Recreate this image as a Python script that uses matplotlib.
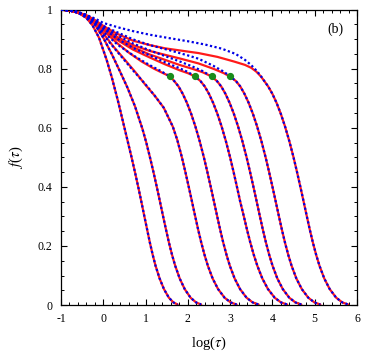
import matplotlib
matplotlib.use("Agg")
import matplotlib.pyplot as plt
from matplotlib.ticker import MultipleLocator, FuncFormatter

plt.rcParams['font.family'] = ['Liberation Serif', 'DejaVu Serif']
plt.rcParams['mathtext.fontset'] = 'stix'

# ---- data (x = log(tau), y = f(tau)) ----
# red solid curves
red_x1 = [-1, -0.8, -0.6, -0.4, -0.25, -0.1, 0.08, 0.2, 0.35, 0.51, 0.67, 0.75, 0.838, 0.901, 0.97, 1.039, 1.102, 1.17, 1.237, 1.333, 1.436, 1.552, 1.66, 1.76]
red_y1 = [1.0, 0.997, 0.99, 0.972, 0.946, 0.905, 0.83, 0.772, 0.69, 0.595, 0.50, 0.45, 0.393, 0.35, 0.302, 0.255, 0.212, 0.17, 0.133, 0.09, 0.054, 0.025, 0.009, 0.002]

red_x2 = [-1, -0.8, -0.6, -0.4, -0.2, 0, 0.2, 0.395, 0.5725, 0.75, 0.9275, 1.016, 1.105, 1.188, 1.277, 1.342, 1.413, 1.485, 1.553, 1.627, 1.702, 1.808, 1.927, 2.065, 2.195, 2.315]
red_y2 = [1.0, 0.997, 0.99, 0.975, 0.95, 0.905, 0.85, 0.791, 0.736, 0.673, 0.596, 0.551, 0.50, 0.45, 0.393, 0.35, 0.302, 0.255, 0.212, 0.17, 0.133, 0.09, 0.054, 0.025, 0.009, 0.002]

red_x3 = [-1, -0.8, -0.6, -0.4, -0.2, 0, 0.24, 0.5, 0.75, 1.0, 1.215, 1.43, 1.645, 1.7525, 1.86, 1.943, 2.033, 2.099, 2.172, 2.245, 2.317, 2.395, 2.474, 2.587, 2.716, 2.869, 3.014, 3.154]
red_y3 = [1.0, 0.997, 0.99, 0.977, 0.955, 0.92, 0.875, 0.832, 0.79, 0.745, 0.709, 0.668, 0.604, 0.558, 0.50, 0.45, 0.393, 0.35, 0.302, 0.255, 0.212, 0.17, 0.133, 0.09, 0.054, 0.025, 0.009, 0.002]

red_x4 = [-1, -0.8, -0.6, -0.4, -0.2, 0, 0.3, 0.6, 0.9, 1.2, 1.4, 1.577, 1.68, 1.78, 1.88, 1.98, 2.08, 2.18, 2.28, 2.38, 2.463, 2.553, 2.619, 2.692, 2.765, 2.837, 2.915, 2.994, 3.107, 3.236, 3.389, 3.534, 3.674]
red_y4 = [1.0, 0.997, 0.99, 0.978, 0.958, 0.93, 0.89, 0.855, 0.825, 0.80, 0.786, 0.774, 0.758, 0.740, 0.715, 0.684, 0.647, 0.604, 0.555, 0.50, 0.45, 0.393, 0.35, 0.302, 0.255, 0.212, 0.17, 0.133, 0.09, 0.054, 0.025, 0.009, 0.002]

red_x5 = [-1, -0.8, -0.6, -0.4, -0.2, 0, 0.3, 0.7, 1.1, 1.46, 1.8, 2.0, 2.17, 2.3, 2.4, 2.5, 2.6, 2.7, 2.8, 2.9, 3.0, 3.083, 3.173, 3.239, 3.322, 3.40, 3.477, 3.56, 3.644, 3.762, 3.896, 4.054, 4.204, 4.35]
red_y5 = [1.0, 0.997, 0.99, 0.979, 0.96, 0.935, 0.9, 0.865, 0.838, 0.815, 0.795, 0.785, 0.774, 0.758, 0.740, 0.715, 0.684, 0.647, 0.604, 0.555, 0.50, 0.45, 0.393, 0.35, 0.302, 0.255, 0.212, 0.17, 0.133, 0.09, 0.054, 0.025, 0.009, 0.002]

red_x6 = [-1, -0.8, -0.6, -0.4, -0.2, 0, 0.3, 0.7, 1.1, 1.46, 1.8, 2.1, 2.35, 2.56, 2.69, 2.79, 2.89, 2.99, 3.09, 3.19, 3.29, 3.39, 3.473, 3.563, 3.629, 3.702, 3.775, 3.847, 3.925, 4.004, 4.117, 4.246, 4.399, 4.544, 4.684]
red_y6 = [1.0, 0.997, 0.99, 0.979, 0.961, 0.937, 0.905, 0.873, 0.848, 0.83, 0.813, 0.80, 0.788, 0.774, 0.758, 0.740, 0.715, 0.684, 0.647, 0.604, 0.555, 0.50, 0.45, 0.393, 0.35, 0.302, 0.255, 0.212, 0.17, 0.133, 0.09, 0.054, 0.025, 0.009, 0.002]

red_x7 = [-1, -0.8, -0.6, -0.4, -0.2, 0, 0.3, 0.7, 1.1, 1.46, 1.8, 2.25, 2.6, 2.85, 2.99, 3.14, 3.24, 3.34, 3.44, 3.54, 3.64, 3.74, 3.84, 3.923, 4.013, 4.079, 4.152, 4.225, 4.297, 4.375, 4.454, 4.567, 4.696, 4.849, 4.994, 5.134]
red_y7 = [1.0, 0.997, 0.99, 0.98, 0.962, 0.94, 0.91, 0.88, 0.86, 0.847, 0.835, 0.818, 0.80, 0.785, 0.774, 0.758, 0.740, 0.715, 0.684, 0.647, 0.604, 0.555, 0.50, 0.45, 0.393, 0.35, 0.302, 0.255, 0.212, 0.17, 0.133, 0.09, 0.054, 0.025, 0.009, 0.002]

red_x8 = [-1, -0.8, -0.6, -0.4, -0.2, 0, 0.3, 0.7, 1.1, 1.46, 1.9, 2.25, 2.7, 3.1, 3.35, 3.5, 3.62, 3.72, 3.8, 3.9, 4.0, 4.1, 4.2, 4.3, 4.4, 4.5, 4.583, 4.673, 4.739, 4.812, 4.885, 4.957, 5.035, 5.114, 5.227, 5.356, 5.509, 5.654, 5.794]
red_y8 = [1.0, 0.997, 0.991, 0.981, 0.965, 0.945, 0.92, 0.895, 0.88, 0.869, 0.86, 0.853, 0.84, 0.824, 0.813, 0.803, 0.79, 0.775, 0.76, 0.740, 0.715, 0.684, 0.647, 0.604, 0.555, 0.50, 0.45, 0.393, 0.35, 0.302, 0.255, 0.212, 0.17, 0.133, 0.09, 0.054, 0.025, 0.009, 0.002]

# blue dotted curves: plateau parts read separately; they join the red curves in the final decay
blue_head_x3 = [-1, -0.8, -0.6, -0.4, -0.2, 0, 0.3, 0.7, 1.0, 1.215]
blue_head_y3 = [1.0, 0.997, 0.99, 0.976, 0.952, 0.915, 0.863, 0.795, 0.747, 0.709]
blue_head_x4 = [-1, -0.8, -0.6, -0.4, -0.2, 0, 0.35, 0.71, 1.1, 1.35, 1.577]
blue_head_y4 = [1.0, 0.997, 0.99, 0.977, 0.955, 0.925, 0.88, 0.845, 0.812, 0.793, 0.774]
blue_head_x5 = [-1, -0.8, -0.6, -0.4, -0.2, 0, 0.35, 0.71, 1.1, 1.46, 1.8, 2.0, 2.17]
blue_head_y5 = [1.0, 0.997, 0.991, 0.98, 0.961, 0.935, 0.9, 0.87, 0.845, 0.822, 0.802, 0.789, 0.774]
blue_head_x6 = [-1, -0.8, -0.6, -0.4, -0.2, 0, 0.35, 0.71, 1.1, 1.46, 1.8, 2.1, 2.35, 2.56]
blue_head_y6 = [1.0, 0.998, 0.991, 0.981, 0.962, 0.94, 0.912, 0.885, 0.862, 0.843, 0.825, 0.808, 0.792, 0.774]
blue_head_x7 = [-1, -0.8, -0.6, -0.4, -0.2, 0, 0.35, 0.71, 1.1, 1.58, 2.0, 2.25, 2.6, 2.85, 2.99]
blue_head_y7 = [1.0, 0.998, 0.992, 0.982, 0.965, 0.945, 0.922, 0.899, 0.88, 0.862, 0.845, 0.834, 0.81, 0.79, 0.775]
blue_head_x8 = [-1, -0.8, -0.6, -0.4, -0.2, 0, 0.35, 0.71, 1.1, 1.58, 2.0, 2.4, 2.8, 3.13, 3.35, 3.5, 3.62, 3.72]
blue_head_y8 = [1.0, 0.998, 0.992, 0.982, 0.97, 0.955, 0.94, 0.927, 0.915, 0.903, 0.893, 0.882, 0.868, 0.85, 0.83, 0.812, 0.794, 0.777]

# green markers
green_x = [1.577, 2.168, 2.563, 2.996]
green_y = [0.774, 0.774, 0.774, 0.774]

x_ticks = [-1, 0, 1, 2, 3, 4, 5, 6]
y_ticks = [0, 0.2, 0.4, 0.6, 0.8, 1]
panel_label = "(b)"

red_curves = [(red_x1, red_y1), (red_x2, red_y2), (red_x3, red_y3), (red_x4, red_y4),
              (red_x5, red_y5), (red_x6, red_y6), (red_x7, red_y7), (red_x8, red_y8)]


def join(hx, hy, rx, ry):
    tail = [(a, b) for a, b in zip(rx, ry) if a > hx[-1]]
    return hx + [a for a, _ in tail], hy + [b for _, b in tail]


blue_curves = [(red_x1, red_y1), (red_x2, red_y2),
               join(blue_head_x3, blue_head_y3, red_x3, red_y3),
               join(blue_head_x4, blue_head_y4, red_x4, red_y4),
               join(blue_head_x5, blue_head_y5, red_x5, red_y5),
               join(blue_head_x6, blue_head_y6, red_x6, red_y6),
               join(blue_head_x7, blue_head_y7, red_x7, red_y7),
               join(blue_head_x8, blue_head_y8, red_x8, red_y8)]

# ---- figure ----
fig = plt.figure(figsize=(3.65, 3.56), dpi=100)
ax = fig.add_axes([0.167, 0.143, 0.811, 0.830])

for cx, cy in red_curves:
    ax.plot(cx, cy, color='#ff1a1a', lw=1.6, solid_capstyle='round', solid_joinstyle='round', zorder=2)
for cx, cy in blue_curves:
    ax.plot(cx, cy, color='#0000e6', lw=1.6, linestyle=(0, (1, 1.1)), zorder=3)
ax.plot(green_x, green_y, 'o', color='#1a8c1a', ms=4.2, mec='#1a8c1a', zorder=4)

ax.set_xlim(-1, 6)
ax.set_ylim(0, 1)
ax.set_xticks(x_ticks)
ax.set_yticks(y_ticks)
ax.xaxis.set_minor_locator(MultipleLocator(0.2))
ax.yaxis.set_minor_locator(MultipleLocator(0.05))


def fmt(v, pos):
    if abs(v - round(v)) < 1e-9:
        return "%d" % round(v)
    return "%.1f" % v


ax.xaxis.set_major_formatter(FuncFormatter(fmt))
ax.yaxis.set_major_formatter(FuncFormatter(fmt))

ax.tick_params(which='both', direction='in', top=True, right=True, labelsize=8.5, colors='black')
ax.tick_params(which='major', length=4.5, width=0.8, pad=6)
ax.tick_params(which='minor', length=2.5, width=0.7)
for s in ax.spines.values():
    s.set_linewidth(0.9)

ax.set_xlabel(r'log($\tau$)', fontsize=10.5, labelpad=7)
ax.set_ylabel(r'$f$($\tau$)', fontsize=10.5, labelpad=9)
ax.text(5.5, 0.932, panel_label, fontsize=10, ha='center', va='center')

fig.savefig('out.png', dpi=100)
